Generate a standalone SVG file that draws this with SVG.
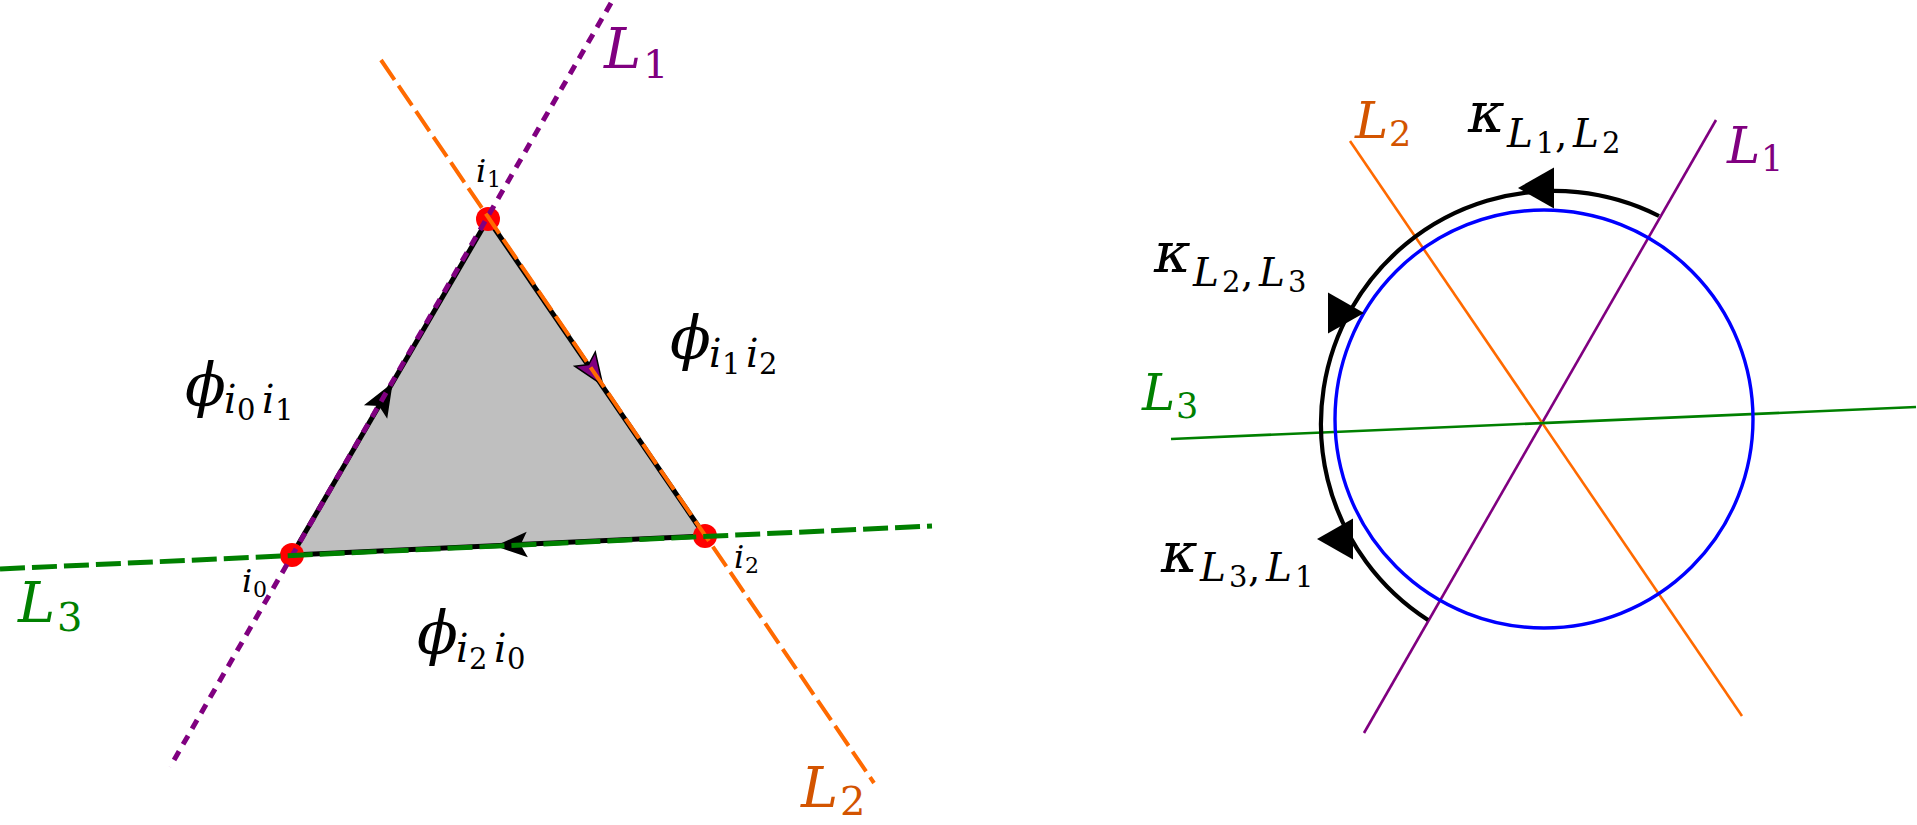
<svg xmlns="http://www.w3.org/2000/svg" xmlns:xlink="http://www.w3.org/1999/xlink" width="1917" height="825" viewBox="0 0 1917 825">
<style>
text{font-family:'DejaVu Serif','Liberation Serif',serif;fill:#000}
.it{font-style:italic}
.phi{font-size:60px}
.kap{font-size:56px}
.bigL{font-size:56px}
.bigS{font-size:40px}
.rL{font-size:50px}
.rS{font-size:35px}
.s{font-size:39px}
.ss{font-size:29px}
.vi{font-size:32px}
.vs{font-size:22px}
.purple{fill:#800080}
.orangeT{fill:#d35400}
.green{fill:#008000}
</style>
<defs>
<path id="stealth" d="M0,0 L-34,-13.5 L-27,0 L-34,13.5 Z"/>
<path id="tri" d="M0,0 L-36,-20.5 L-36,20.5 Z"/>
</defs>
<rect width="1917" height="825" fill="#fff"/>

<g id="left-figure">
  <polygon id="face" points="292,555 488,219 705,536" fill="#bfbfbf"/>
  <g id="edges" stroke="#000" stroke-width="5" fill="none">
    <line x1="292" y1="555" x2="488" y2="219"/>
    <line x1="488" y1="219" x2="705" y2="536"/>
    <line x1="705" y1="536" x2="292" y2="555"/>
  </g>
  <g id="edge-arrows">
    <use xlink:href="#stealth" href="#stealth" transform="translate(392.7,382.7) rotate(-59.7)" fill="#000"/>
    <use xlink:href="#stealth" href="#stealth" transform="translate(602.7,385) rotate(55.6) scale(0.92)" fill="#800080" stroke="#000" stroke-width="1.6"/>
    <use xlink:href="#stealth" href="#stealth" transform="translate(495,546) rotate(177.4) scale(0.95)" fill="#000"/>
  </g>
  <g id="vertices" fill="#ff0000">
    <circle cx="488" cy="219" r="12"/>
    <circle cx="292" cy="555" r="12"/>
    <circle cx="705" cy="536" r="12"/>
  </g>
  <g id="lines-left" fill="none">
    <line id="L1a" x1="611" y1="3" x2="170" y2="767" stroke="#800080" stroke-width="5" stroke-dasharray="10 8"/>
    <line id="L2a" x1="381" y1="60" x2="874" y2="783" stroke="#ff6a00" stroke-width="4" stroke-dasharray="24 7"/>
    <line id="L3a" x1="0" y1="569" x2="932" y2="526" stroke="#008000" stroke-width="5" stroke-dasharray="25 7"/>
  </g>
  <g id="labels-left">
    <text class="purple"><tspan class="it bigL" x="604" y="68">L</tspan><tspan class="bigS" x="643" y="78">1</tspan></text>
    <text class="orangeT"><tspan class="it bigL" x="801" y="807">L</tspan><tspan class="bigS" x="840" y="815">2</tspan></text>
    <text class="green"><tspan class="it bigL" x="18" y="622">L</tspan><tspan class="bigS" x="57" y="631">3</tspan></text>
    <text><tspan class="it vi" x="476" y="182">i</tspan><tspan class="vs" x="487" y="187">1</tspan></text>
    <text><tspan class="it vi" x="242" y="592">i</tspan><tspan class="vs" x="253" y="597">0</tspan></text>
    <text><tspan class="it vi" x="734" y="568">i</tspan><tspan class="vs" x="745" y="573">2</tspan></text>
    <text><tspan class="it phi" x="670" y="359">ϕ</tspan><tspan class="it s" x="709" y="367">i</tspan><tspan class="ss" x="722" y="374">1</tspan><tspan class="it s" x="746" y="367">i</tspan><tspan class="ss" x="759" y="374">2</tspan></text>
    <text><tspan class="it phi" x="185" y="406">ϕ</tspan><tspan class="it s" x="224" y="413">i</tspan><tspan class="ss" x="237" y="420">0</tspan><tspan class="it s" x="262" y="413">i</tspan><tspan class="ss" x="275" y="420">1</tspan></text>
    <text><tspan class="it phi" x="417" y="654">ϕ</tspan><tspan class="it s" x="456" y="662">i</tspan><tspan class="ss" x="469" y="669">2</tspan><tspan class="it s" x="494" y="662">i</tspan><tspan class="ss" x="507" y="669">0</tspan></text>
  </g>
</g>

<g id="right-figure">
  <g id="lines-right" fill="none" stroke-width="2.6">
    <line id="L1b" x1="1364" y1="733" x2="1716" y2="120" stroke="#800080"/>
    <line id="L2b" x1="1350" y1="141" x2="1742" y2="716" stroke="#ff6a00"/>
    <line id="L3b" x1="1171" y1="439" x2="1916" y2="407" stroke="#008000"/>
  </g>
  <circle id="circle" cx="1544" cy="419" r="209" fill="none" stroke="#0000ff" stroke-width="3.4"/>
  <g id="connectors">
    <path id="arc" d="M1659,216 A233,233 0 0 0 1428,620" fill="none" stroke="#000" stroke-width="4.2"/>
    <use xlink:href="#tri" href="#tri" transform="translate(1518,188) rotate(180)" fill="#000"/>
    <use xlink:href="#tri" href="#tri" transform="translate(1364,313)" fill="#000"/>
    <use xlink:href="#tri" href="#tri" transform="translate(1317,539) rotate(180)" fill="#000"/>
  </g>
  <g id="labels-right">
    <text class="orangeT"><tspan class="it rL" x="1355" y="138">L</tspan><tspan class="rS" x="1389" y="146">2</tspan></text>
    <text class="purple"><tspan class="it rL" x="1727" y="163">L</tspan><tspan class="rS" x="1761" y="171">1</tspan></text>
    <text class="green"><tspan class="it rL" x="1142" y="410">L</tspan><tspan class="rS" x="1176" y="418">3</tspan></text>
    <text><tspan class="it kap" x="1468" y="132">κ</tspan><tspan class="it s" x="1507" y="147">L</tspan><tspan class="ss" x="1536" y="153">1</tspan><tspan class="s" x="1555" y="147">,</tspan><tspan class="it s" x="1573" y="147">L</tspan><tspan class="ss" x="1602" y="153">2</tspan></text>
    <text><tspan class="it kap" x="1154" y="272">κ</tspan><tspan class="it s" x="1193" y="286">L</tspan><tspan class="ss" x="1222" y="292">2</tspan><tspan class="s" x="1241" y="286">,</tspan><tspan class="it s" x="1259" y="286">L</tspan><tspan class="ss" x="1288" y="292">3</tspan></text>
    <text><tspan class="it kap" x="1161" y="572">κ</tspan><tspan class="it s" x="1200" y="581">L</tspan><tspan class="ss" x="1229" y="587">3</tspan><tspan class="s" x="1248" y="581">,</tspan><tspan class="it s" x="1266" y="581">L</tspan><tspan class="ss" x="1295" y="587">1</tspan></text>
  </g>
</g>
</svg>
